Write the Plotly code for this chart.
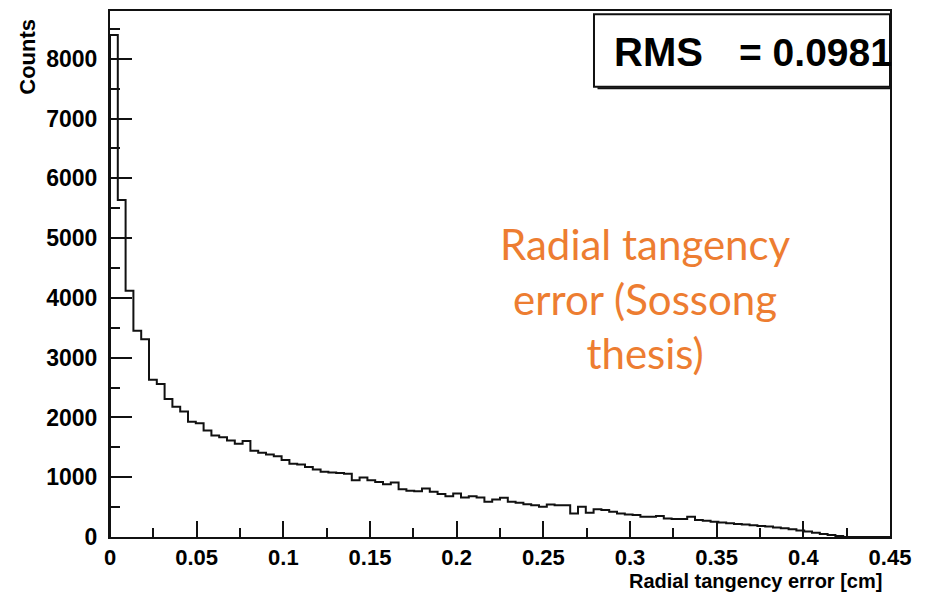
import numpy as np
import plotly.graph_objects as go

# ---- data ----
x_min, x_max, n_bins = 0.0, 0.45, 100
counts = [
    8400, 5640, 4120, 3450, 3310, 2630, 2560, 2310, 2180, 2100,
    1930, 1905, 1780, 1700, 1670, 1615, 1560, 1605, 1445, 1410,
    1380, 1350, 1290, 1225, 1215, 1170, 1128, 1090, 1078, 1072,
    1060, 950, 994, 950, 922, 883, 911, 800, 772, 767,
    811, 755, 720, 683, 728, 661, 683, 661, 589, 628,
    656, 589, 572, 550, 533, 506, 545, 533, 533, 394,
    506, 406, 465, 450, 422, 394, 378, 367, 339, 339,
    350, 311, 300, 300, 339, 283, 272, 256, 244, 228,
    217, 211, 195, 185, 175, 160, 145, 128, 108, 90,
    72, 52, 35, 15, 0, 0, 0, 0, 0, 0,
]
x_title = "Radial tangency error [cm]"
y_title = "Counts"
rms_label = "RMS"
rms_value = "= 0.0981"
note = "Radial tangency<br>error (Sossong<br>thesis)"

edges = np.linspace(x_min, x_max, n_bins + 1)
xs = np.concatenate([[x_min], edges])
ys = np.concatenate([[0], counts, [counts[-1]]])

bold = dict(family="Liberation Sans, Arial, sans-serif", weight="bold", color="black")

fig = go.Figure()
fig.add_trace(go.Scatter(x=xs, y=ys, mode="lines", line=dict(shape="hv", color="#111", width=2),
                         showlegend=False, hoverinfo="skip"))

fig.update_layout(
    width=926, height=593,
    margin=dict(l=110, r=36, t=9, b=56),
    paper_bgcolor="white", plot_bgcolor="white",
    font=bold,
    xaxis=dict(range=[0, 0.45], dtick=0.05, tick0=0, ticks="inside", ticklen=16, tickwidth=2,
               tickcolor="#111", showline=True, linecolor="#111", linewidth=2, mirror=True,
               showgrid=False, zeroline=False, tickfont=dict(size=22, **bold),
               minor=dict(dtick=0.025, ticks="inside", ticklen=9, tickwidth=1.5, tickcolor="#111", showgrid=False)),
    yaxis=dict(range=[0, 8800], dtick=1000, tick0=0, ticks="inside", ticklen=22, tickwidth=2,
               tickcolor="#111", showline=True, linecolor="#111", linewidth=2, mirror=True,
               showgrid=False, zeroline=False, tickfont=dict(size=23, **bold), ticklabelstandoff=6,
               minor=dict(dtick=500, ticks="inside", ticklen=10, tickwidth=1.5, tickcolor="#111", showgrid=False)),
)

# RMS stats box
fig.add_shape(type="rect", xref="paper", yref="paper", x0=0.6205, x1=1.0, y0=0.856, y1=0.994,
              line=dict(color="#111", width=2), fillcolor="white", layer="above")
fig.add_shape(type="line", xref="paper", yref="paper", x0=0.625, x1=1.0, y0=0.853, y1=0.853,
              line=dict(color="#111", width=2), layer="above")
fig.add_annotation(text=rms_label, xref="paper", yref="paper", x=(612 - 110) / 780, y=0.922,
                   xanchor="left", yanchor="middle", showarrow=False, font=dict(size=40, **bold))
fig.add_annotation(text=rms_value, xref="paper", yref="paper", x=(737 - 110) / 780, y=0.922,
                   xanchor="left", yanchor="middle", showarrow=False, font=dict(size=39, **bold))

# axis titles
fig.add_annotation(text=x_title, xref="paper", yref="paper", x=(884 - 110) / 780, y=-0.084,
                   xanchor="right", yanchor="middle", showarrow=False, font=dict(size=20, **bold))
fig.add_annotation(text=y_title, xref="paper", yref="paper", x=(28 - 110) / 780, y=0.913,
                   xanchor="center", yanchor="middle", textangle=-90, showarrow=False,
                   font=dict(size=22, **bold))

# orange note
fig.add_annotation(text=note, xref="paper", yref="paper", x=(645 - 110) / 780, y=(537 - 298) / 528,
                   xanchor="center", yanchor="middle", showarrow=False, align="center",
                   font=dict(family="Lato, sans-serif", size=42, color="#ED7D31", weight="normal"))

fig.write_html("out.html")
